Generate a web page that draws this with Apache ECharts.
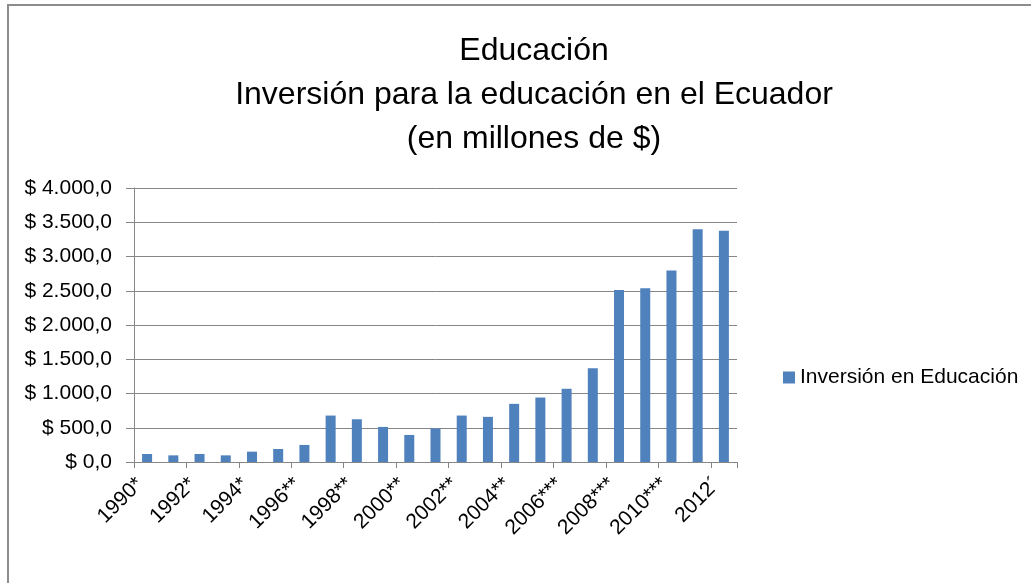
<!DOCTYPE html>
<html>
<head>
<meta charset="utf-8">
<script src="https://cdn.jsdelivr.net/npm/echarts@6/dist/echarts.min.js"></script>
<style>
  html, body { margin: 0; padding: 0; background: #fff; }
  #chart { width: 1031px; height: 583px; }
</style>
</head>
<body>
<div id="chart"></div>
<script>
// años (categorías)
const years = ["1990*", "1991*", "1992*", "1993*", "1994*", "1995*", "1996**", "1997**",
  "1998**", "1999**", "2000**", "2001**", "2002**", "2003**", "2004**", "2005**",
  "2006***", "2007***", "2008***", "2009***", "2010***", "2011´", "2012´"];
// inversión en millones de $
const inversion = [117, 97, 117, 97, 151, 190, 249, 678, 624, 512, 395, 488, 678, 659,
  849, 941, 1069, 1370, 2512, 2537, 2796, 3396, 3376];
const seriesName = "Inversión en Educación";
const titleText = "Educación\nInversión para la educación en el Ecuador\n(en millones de $)";

const fontFam = "'Liberation Sans Narrow', 'Liberation Sans', Arial, sans-serif";

function money(v) {
  // formato $ 4.000,0
  const s = Math.round(v).toString().replace(/\B(?=(\d{3})+(?!\d))/g, ".");
  return "$ " + s + ",0";
}

const chartObj = echarts.init(document.getElementById("chart"));
const option = {
  backgroundColor: "#fff",
  animation: false,
  title: {
    text: titleText,
    left: 529,
    top: 24,
    textAlign: "center",
    textStyle: {
      fontFamily: fontFam,
      fontSize: 32,
      fontWeight: "normal",
      lineHeight: 44,
      color: "#000"
    }
  },
  legend: {
    data: [seriesName],
    icon: "rect",
    left: 778,
    top: 362,
    itemWidth: 12,
    itemHeight: 12,
    itemGap: 6,
    textStyle: { fontFamily: fontFam, fontSize: 21, color: "#000" }
  },
  grid: { left: 134, right: 294, top: 188, bottom: 121 },
  xAxis: {
    type: "category",
    data: years,
    axisLine: { lineStyle: { color: "#868686" } },
    axisTick: { show: true, length: 6, lineStyle: { color: "#868686" } },
    axisLabel: {
      interval: 1,
      rotate: 45,
      margin: 12,
      padding: [0, 10, 0, 0],
      fontFamily: fontFam,
      fontSize: 21,
      color: "#000"
    }
  },
  yAxis: {
    type: "value",
    min: 0,
    max: 4000,
    interval: 500,
    axisLine: { show: true, lineStyle: { color: "#868686" } },
    axisTick: { show: true, length: 8, lineStyle: { color: "#868686" } },
    splitLine: { lineStyle: { color: "#868686", width: 1 } },
    axisLabel: {
      formatter: money,
      margin: 22,
      fontFamily: fontFam,
      fontSize: 21,
      color: "#000"
    }
  },
  series: [{
    name: seriesName,
    type: "bar",
    data: inversion,
    barWidth: 10,
    itemStyle: { color: "#4F81BD" }
  }],
  graphic: [{
    type: "rect",
    shape: { x: 8, y: 5, width: 1200, height: 1200 },
    style: { fill: "none", stroke: "#8c8c8c", lineWidth: 2 },
    silent: true
  }]
};
chartObj.setOption(option, true);
window.addEventListener("resize", () => { chartObj.resize(); });
</script>
</body>
</html>
